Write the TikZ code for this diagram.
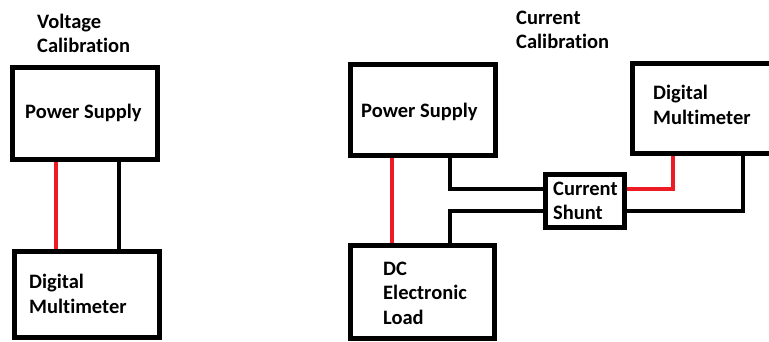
\documentclass[tikz,border=0pt]{standalone}
\usepackage{fontspec}
\setmainfont{Carlito}[Ligatures=NoCommon]
\definecolor{wirered}{HTML}{ED1C24}
\begin{document}
\begin{tikzpicture}[x=1pt,y=-1pt,
  box/.style={draw=black,line width=5pt,fill=white,inner sep=0pt,rectangle},
  lbl/.style={anchor=base west,inner sep=0pt,align=left,
    font=\bfseries\fontsize{20.5}{24.5}\selectfont,text=black},
  wire/.style={line width=4pt,black},
  redwire/.style={line width=4pt,wirered}]
\useasboundingbox (0,0) rectangle (769,342);
\clip (0,0) rectangle (769,342);
\fill[white] (0,0) rectangle (769,342);

% Voltage calibration (base anchor = baseline of last line)
\node[lbl] (vtitle) at (37,53) {Voltage\\Calibration};
\node[box,minimum width=144.5pt,minimum height=91.5pt] (lps) at (84.75,113.75) {};
\node[lbl] (lpst) at (25,119) {Power Supply};
\node[box,minimum width=145pt,minimum height=85.5pt] (ldmm) at (87,294.25) {};
\node[lbl] (ldmmt) at (29,313) {Digital\\Multimeter};
\coordinate (lx1) at (56,200);
\coordinate (lx2) at (119,200);
\draw[redwire] (lps.south -| lx1) -- (ldmm.north -| lx1);
\draw[wire] (lps.south -| lx2) -- (ldmm.north -| lx2);

% Current calibration
\node[lbl] (ctitle) at (516,49) {Current\\Calibration};
\node[box,minimum width=145pt,minimum height=91pt] (rps) at (422.5,110) {};
\node[lbl] (rpst) at (361,118) {Power Supply};
\node[box,minimum width=157.5pt,minimum height=90.5pt] (rdmm) at (711.25,108.75) {};
\node[lbl] (rdmmt) at (653,124.5) {Digital\\Multimeter};
\node[box,minimum width=78.5pt,minimum height=52.5pt] (shunt) at (584.75,201.25) {};
\node[lbl] (shuntt) at (553,219.5) {Current\\Shunt};
\node[box,minimum width=144pt,minimum height=92.5pt] (load) at (422.5,291.75) {};
\node[lbl] (loadt) at (383,324) {DC\\Electronic\\Load};

\coordinate (rx1) at (391.7,200);
\coordinate (rx2) at (450,200);
\coordinate (rx3) at (673.3,200);
\coordinate (rx4) at (743.3,200);
\draw[redwire] (rps.south -| rx1) -- (load.north -| rx1);
\draw[wire] (rps.south -| rx2) |- ([yshift=12pt]shunt.west);
\draw[wire] (load.north -| rx2) |- ([yshift=-9.5pt]shunt.west);
\draw[redwire] ([yshift=12pt]shunt.east) -| (rdmm.south -| rx3);
\draw[wire] ([yshift=-9.5pt]shunt.east) -| (rdmm.south -| rx4);
\end{tikzpicture}
\end{document}
